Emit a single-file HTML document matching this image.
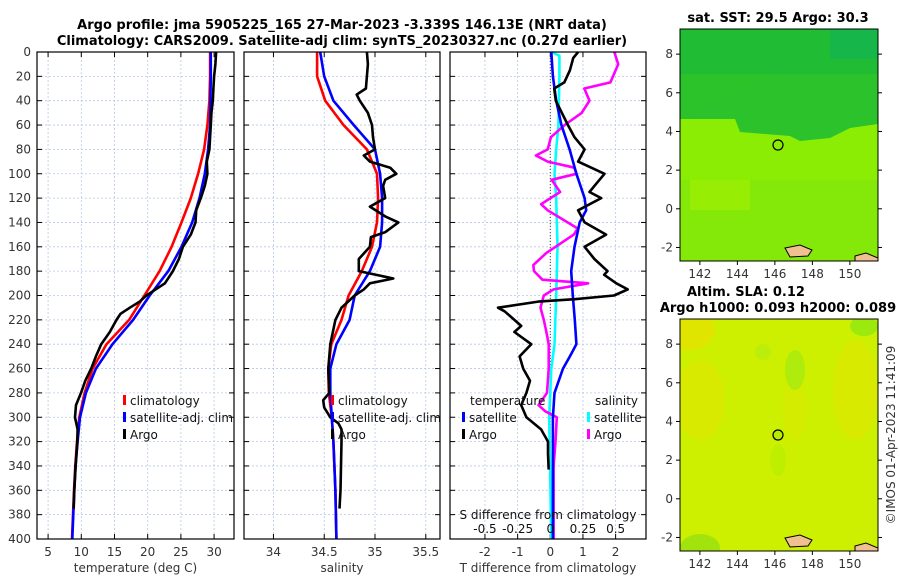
<!DOCTYPE html>
<html><head><meta charset="utf-8"><style>
body{margin:0;background:#fff;}
svg text{font-family:"DejaVu Sans","Liberation Sans",sans-serif;}
.t{font-size:12px;fill:#333;}
.b{font-weight:bold;font-size:13px;fill:#000;}
</style></head><body>
<svg id="c" width="900" height="580" xmlns="http://www.w3.org/2000/svg">
<defs>
<clipPath id="m1"><rect x="680" y="29" width="198" height="232"/></clipPath>
<clipPath id="m2"><rect x="680" y="319" width="198" height="232"/></clipPath>
</defs>
<text x="342" y="29" text-anchor="middle" class="b">Argo profile: jma 5905225_165 27-Mar-2023 -3.339S 146.13E (NRT data)</text>
<text x="342" y="45" text-anchor="middle" class="b">Climatology: CARS2009. Satellite-adj clim: synTS_20230327.nc (0.27d earlier)</text>
<g id="plots"></g>
<!-- maps -->
<g clip-path="url(#m1)">
<rect x="680" y="29" width="198" height="232" fill="#8ced04"/>
<rect x="680" y="180" width="198" height="81" fill="#84e808"/>
<rect x="680" y="29" width="198" height="90" fill="#2cc32a"/>
<path d="M680,119 L735,119 L740,132 L790,136 L800,141 L830,138 L850,128 L878,124 L878,29 Z" fill="#2bc22c"/>
<rect x="680" y="29" width="198" height="45" fill="#1fbc34"/>
<rect x="830" y="29" width="48" height="30" fill="#16b64a"/>
<rect x="690" y="180" width="60" height="30" fill="#a4f000" opacity="0.6"/>
<path d="M785,248 L800,245 L812,250 L808,256 L790,257 Z" fill="#f0c090" stroke="#000" stroke-width="1"/>
<path d="M855,256 L866,253 L878,258 L878,261 L855,261 Z" fill="#f0c090" stroke="#000" stroke-width="1"/>
<circle cx="778" cy="145" r="5" fill="#8ced04" stroke="#000" stroke-width="1.2"/>
</g>
<rect x="680" y="29" width="198" height="232" fill="none" stroke="#000" stroke-width="1"/>
<g clip-path="url(#m2)">
<rect x="680" y="319" width="198" height="232" fill="#ccf000"/>
<ellipse cx="690" cy="330" rx="25" ry="20" fill="#e8e000" opacity="0.7"/>
<ellipse cx="700" cy="400" rx="25" ry="40" fill="#dde600" opacity="0.6"/>
<ellipse cx="855" cy="390" rx="22" ry="50" fill="#dde600" opacity="0.6"/>
<ellipse cx="795" cy="410" rx="12" ry="30" fill="#d8ea00" opacity="0.6"/>
<ellipse cx="795" cy="370" rx="10" ry="20" fill="#a8ea10" opacity="0.8"/>
<ellipse cx="763" cy="352" rx="8" ry="8" fill="#b4ec10" opacity="0.7"/>
<ellipse cx="864" cy="326" rx="14" ry="10" fill="#90e810" opacity="0.8"/>
<ellipse cx="700" cy="548" rx="20" ry="14" fill="#98e010" opacity="0.8"/>
<ellipse cx="778" cy="460" rx="8" ry="16" fill="#b8ec00" opacity="0.7"/>
<path d="M785,538 L800,535 L812,540 L808,546 L790,547 Z" fill="#f0c090" stroke="#000" stroke-width="1"/>
<path d="M855,546 L866,543 L878,548 L878,551 L855,551 Z" fill="#f0c090" stroke="#000" stroke-width="1"/>
<circle cx="778" cy="435" r="5" fill="#b8ec00" stroke="#000" stroke-width="1.2"/>
</g>
<rect x="680" y="319" width="198" height="232" fill="none" stroke="#000" stroke-width="1"/>
<text x="778" y="22" text-anchor="middle" class="b">sat. SST: 29.5 Argo: 30.3</text>
<text x="687" y="296" class="b">Altim. SLA: 0.12</text>
<text x="778" y="312" text-anchor="middle" class="b">Argo h1000: 0.093 h2000: 0.089</text>
<text transform="translate(895,435) rotate(-90)" text-anchor="middle" class="t">©IMOS 01-Apr-2023 11:41:09</text>
<g id="maps"></g>
</svg>
<script>
// ---- data ----
const climDepth=[0,20,40,60,80,100,120,140,160,180,200,220,240,260,280,300,320,340,360,380,400];
const climT=[29.4,29.4,29.3,29.0,28.5,27.6,26.5,25.1,23.6,21.8,19.5,17.2,13.8,11.7,10.5,9.7,9.35,9.1,8.9,8.75,8.6];
const satT=[29.5,29.5,29.45,29.4,29.1,28.6,27.8,26.7,25.1,23.1,20.3,17.8,14.7,12.2,10.7,9.8,9.45,9.15,8.95,8.8,8.65];
const argoTDepth=[0,10,20,30,40,50,60,70,80,90,100,110,120,130,140,150,160,170,180,190,200,205,210,215,220,230,240,250,260,270,280,290,300,310,320,340,360,375];
const argoT=[30.3,30.2,30.0,29.9,29.8,29.6,29.5,29.4,29.3,28.9,29.0,28.6,28.0,27.3,27.2,26.5,25.3,24.7,23.8,22.6,19.8,18.8,17.3,15.9,15.3,14.3,13.0,12.2,11.5,10.6,9.95,9.2,9.05,9.45,9.4,9.15,8.95,8.85];
const climS=[34.43,34.43,34.51,34.69,34.92,35.02,35.03,35.02,34.97,34.87,34.74,34.67,34.57,34.54,34.545,34.575,34.59,34.6,34.61,34.615,34.62];
const satS=[34.46,34.50,34.59,34.79,35.0,35.05,35.07,35.07,35.05,34.95,34.8,34.75,34.62,34.56,34.56,34.575,34.59,34.6,34.61,34.615,34.62];
const argoSDepth=[0,10,20,30,35,40,50,60,70,80,85,90,95,100,105,110,120,127,135,140,148,152,160,170,180,186,190,195,200,210,220,240,260,280,286,292,300,305,310,320,340,360,375];
const argoS=[34.92,34.93,34.92,34.91,34.82,34.85,34.93,34.97,34.98,35.0,34.89,34.95,35.15,35.21,35.1,35.08,35.1,34.95,35.1,35.23,35.1,34.96,34.95,34.84,34.84,35.18,34.95,34.89,34.8,34.67,34.61,34.56,34.54,34.55,34.49,34.5,34.56,34.64,34.67,34.67,34.665,34.66,34.65];
const satTdDepth=[0,20,40,60,80,100,120,130,140,160,180,200,220,240,250,260,280,300,320,400];
const satTd=[0.03,0.08,0.18,0.34,0.59,0.8,1.05,1.1,0.9,0.74,0.64,0.69,0.75,0.8,0.6,0.39,0.13,0.08,0.08,0.08];
const argoTdDepth=[0,5,15,25,30,40,60,70,80,90,100,110,115,120,130,140,150,160,170,180,183,190,195,200,203,205,210,213,225,230,240,250,260,270,280,290,300,310,320,330,343];
const argoTd=[0.85,0.7,0.6,0.43,0.12,0.17,0.54,0.74,1.05,0.85,1.66,1.35,1.2,1.56,0.85,1.05,1.71,1.05,1.35,1.75,1.65,2.02,2.37,1.95,0.75,-0.37,-1.6,-1.4,-0.89,-1.1,-0.58,-0.94,-0.83,-0.62,-0.73,-0.89,-0.73,-0.28,-0.07,-0.07,-0.05];
const satSdDepth=[0,3,20,60,80,100,120,160,200,240,260,300,400];
const satSd=[0.008,0.07,0.07,0.062,0.045,0.032,0.045,0.055,0.045,0.032,0.008,-0.008,0.008];
const argoSdDepth=[0,10,25,30,40,50,60,70,80,85,90,95,100,105,115,125,130,145,150,165,175,180,187,190,195,200,210,220,230,240,260,280,290,295,300,320,340,360,400];
const argoSd=[0.49,0.52,0.46,0.26,0.3,0.24,0.11,0.005,-0.02,-0.11,-0.02,0.185,0.2,0.01,0.075,-0.07,-0.02,0.21,0.18,-0.03,-0.13,-0.125,-0.06,0.29,0.025,-0.05,-0.075,-0.05,-0.03,-0.012,-0.012,-0.025,-0.09,-0.04,0.05,0.04,0.025,0.025,0.025];
const depthTicks=[0,20,40,60,80,100,120,140,160,180,200,220,240,260,280,300,320,340,360,380,400];
const tTicks=[5,10,15,20,25,30];
const sTicks=[34,34.5,35,35.5];
const dTicks=[-2,-1,0,1,2];
const sdTicks=[-0.5,-0.25,0,0.25,0.5];
const lonTicks=[142,144,146,148,150];
const latTicks=[-2,0,2,4,6,8];

const NS='http://www.w3.org/2000/svg';
const root=document.getElementById('plots');
function el(tag,attrs,parent){const e=document.createElementNS(NS,tag);for(const k in attrs)e.setAttribute(k,attrs[k]);(parent||root).appendChild(e);return e;}
const TOP=52,BOT=539;
const yD=d=>TOP+(d/400)*(BOT-TOP);
function lin(d0,d1,r0,r1){return v=>r0+(v-d0)/(d1-d0)*(r1-r0);}
const panels=[
 {x0:37,x1:234,sc:lin(3.33,33.0,37,234),ticks:tTicks,label:'temperature (deg C)',name:'temperature'},
 {x0:244,x1:440,sc:lin(33.71,35.64,244,440),ticks:sTicks,label:'salinity',name:'salinity'},
 {x0:450,x1:646,sc:lin(-3.07,2.93,450,646),ticks:dTicks,label:'T difference from climatology',name:'difference'}
];
panels.forEach((p,i)=>{
 const g=el('g',{});
 
 
 p.g=g;
 depthTicks.forEach(d=>{if(d>0&&d<400){const l=el('line',{x1:p.x0,x2:p.x1,y1:yD(d),y2:yD(d),stroke:'#b8c8e8','stroke-width':0.8,'stroke-dasharray':'2,2'},g);
  }
  el('line',{x1:p.x0,x2:p.x0+5,y1:yD(d),y2:yD(d),stroke:'#000'},g);el('line',{x1:p.x1-5,x2:p.x1,y1:yD(d),y2:yD(d),stroke:'#000'},g);});
 p.ticks.forEach(v=>{const x=p.sc(v);
  const l=el('line',{x1:x,x2:x,y1:TOP,y2:BOT,stroke:'#b8c8e8','stroke-width':0.8,'stroke-dasharray':'2,2'},g);
  
  el('line',{x1:x,x2:x,y1:BOT-5,y2:BOT,stroke:'#000'},g);el('line',{x1:x,x2:x,y1:TOP,y2:TOP+5,stroke:'#000'},g);
  const t=el('text',{x:x,y:556,'text-anchor':'middle',class:'t'},g);t.textContent=v;
  });
 const xt=el('text',{x:(p.x0+p.x1)/2,y:572,'text-anchor':'middle',class:'t'},g);xt.textContent=p.label;
 
});
depthTicks.forEach(d=>{const t=el('text',{x:31,y:yD(d)+4,'text-anchor':'end',class:'t'});t.textContent=d;
 });
function line(p,depths,vals,color,name,f){
 const pts=depths.map((d,i)=>p.sc(f?f(vals[i]):vals[i]).toFixed(1)+','+yD(d).toFixed(1)).join(' ');
 const l=el('polyline',{points:pts,fill:'none',stroke:color,'stroke-width':2.6,'stroke-linejoin':'round'},p.g);
 
}
const P=panels;
el('line',{x1:P[2].sc(0),x2:P[2].sc(0),y1:TOP,y2:BOT,stroke:'#444','stroke-width':1,'stroke-dasharray':'1,2'},P[2].g);
line(P[0],climDepth,climT,'#ff0000','temp-climatology-line');
line(P[0],climDepth,satT,'#0000ff','temp-satellite-line');
line(P[0],argoTDepth,argoT,'#000','temp-argo-line');
line(P[1],climDepth,climS,'#ff0000','sal-climatology-line');
line(P[1],climDepth,satS,'#0000ff','sal-satellite-line');
line(P[1],argoSDepth,argoS,'#000','sal-argo-line');
const s4=v=>v*4;
line(P[2],satSdDepth,satSd,'#00ffff','sal-diff-satellite-line',s4);
line(P[2],argoSdDepth,argoSd,'#ff00ff','sal-diff-argo-line',s4);
line(P[2],satTdDepth,satTd,'#0000ff','temp-diff-satellite-line');
line(P[2],argoTdDepth,argoTd,'#000','temp-diff-argo-line');
P.forEach(p=>{const r=el('rect',{x:p.x0,y:TOP,width:p.x1-p.x0,height:BOT-TOP,fill:'none',stroke:'#000','stroke-width':1.2},p.g);
 });
// legends
function legend(g,x,y,color,label){
 const m=el('rect',{x:x,y:y-10,width:3,height:10,fill:color},g);
 
 const t=el('text',{x:x+7,y:y,class:'t',style:'fill:#111'},g);t.textContent=label;
 
}
legend(P[0].g,123,405,'#ff0000','climatology');legend(P[0].g,123,422,'#0000ff','satellite-adj. clim');legend(P[0].g,123,439,'#000','Argo');
legend(P[1].g,331,405,'#ff0000','climatology');legend(P[1].g,331,422,'#0000ff','satellite-adj. clim');legend(P[1].g,331,439,'#000','Argo');
let tt=el('text',{x:470,y:405,class:'t',style:'fill:#111'},P[2].g);tt.textContent='temperature';

tt=el('text',{x:595,y:405,class:'t',style:'fill:#111'},P[2].g);tt.textContent='salinity';

legend(P[2].g,462,422,'#0000ff','satellite');legend(P[2].g,462,439,'#000','Argo');
legend(P[2].g,587,422,'#00ffff','satellite');legend(P[2].g,587,439,'#ff00ff','Argo');
tt=el('text',{x:548,y:519,'text-anchor':'middle',class:'t',style:'fill:#111'},P[2].g);tt.textContent='S difference from climatology';

sdTicks.forEach(v=>{const t=el('text',{x:P[2].sc(v*4),y:533,'text-anchor':'middle',class:'t',style:'fill:#111'},P[2].g);t.textContent=v;
 });
// map axes
const mg=document.getElementById('maps');
const lonX=lin(140.94,151.5,680,878);
[[29,261],[319,551]].forEach(([t,b],k)=>{
 const latY=lin(9.3,-2.7,t,b);
 lonTicks.forEach(v=>{const x=lonX(v);el('line',{x1:x,x2:x,y1:b,y2:b+4,stroke:'#000'},mg);
  const tx=el('text',{x:x,y:b+17,'text-anchor':'middle',class:'t'},mg);tx.textContent=v;
  });
 latTicks.forEach(v=>{const y=latY(v);el('line',{x1:676,x2:680,y1:y,y2:y,stroke:'#000'},mg);el('line',{x1:878,x2:882,y1:y,y2:y,stroke:'#000'},mg);
  const tx=el('text',{x:673,y:y+4,'text-anchor':'end',class:'t'},mg);tx.textContent=v;
  });
});
</script>
</body></html>
